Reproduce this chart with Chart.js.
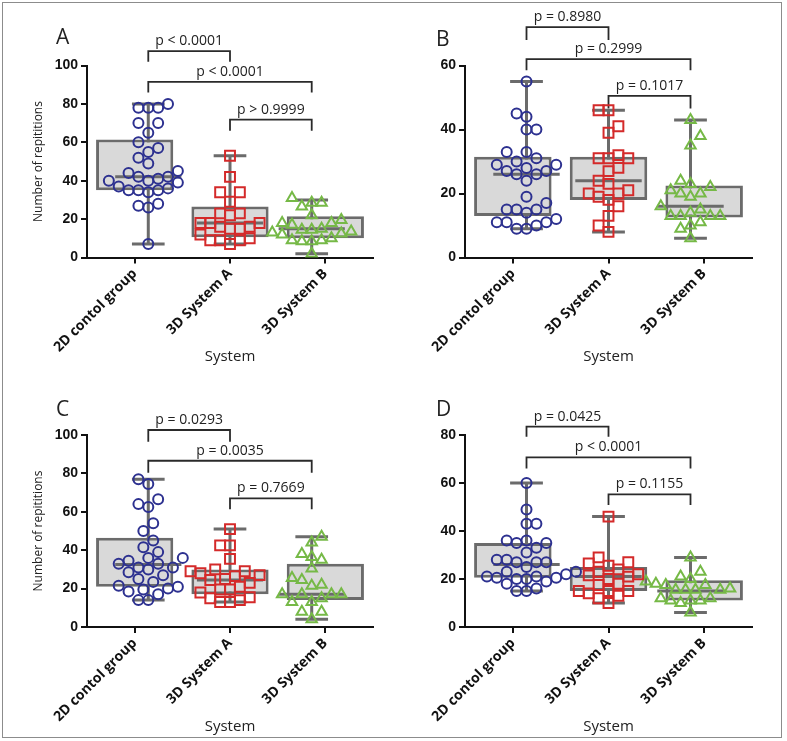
<!DOCTYPE html>
<html>
<head>
<meta charset="utf-8">
<script src="https://cdn.jsdelivr.net/npm/chart.js@4/dist/chart.umd.min.js"></script>
<style>
  body { margin: 0; background: #fff; }
  #wrap { position: relative; width: 787px; height: 741px; overflow: hidden; }
  .frame { position: absolute; left: 2px; top: 2px; width: 778px; height: 734px; border: 1px solid #8c8c8c; }
  .panel { position: absolute; }
  .tag { position: absolute; font: 21px 'Open Sans'; color: #222; line-height: 1; }
</style>
</head>
<body>
<div id="wrap">
  <div class="frame"></div>
  <div class="panel" style="left:0;top:0;width:393px;height:370px"><canvas id="chartA"></canvas></div>
  <div class="panel" style="left:393px;top:0;width:394px;height:370px"><canvas id="chartB"></canvas></div>
  <div class="panel" style="left:0;top:370px;width:393px;height:370px"><canvas id="chartC"></canvas></div>
  <div class="panel" style="left:393px;top:370px;width:394px;height:370px"><canvas id="chartD"></canvas></div>
  <div class="tag" style="left:56px;top:26px">A</div>
  <div class="tag" style="left:436px;top:28px">B</div>
  <div class="tag" style="left:56px;top:398px">C</div>
  <div class="tag" style="left:436px;top:398px">D</div>
</div>
<script>
// groups on the x axis
const groups = ['2D contol group', '3D System A', '3D System B']

// panel A - single values per group
const a2D = [80, 78, 78, 78, 70, 70, 65, 60, 57, 55, 52, 49, 44, 45, 40, 39, 42, 41, 42, 37, 40, 36, 35, 34, 35, 35, 27, 28, 26, 7]
const aSysA = [53, 42, 34, 34, 29, 23, 22, 23, 18, 16, 15, 15, 16, 18, 18, 10, 9, 7, 9, 9, 12]
const aSysB = [31, 28.5, 26.5, 28.5, 22, 18, 18, 19.5, 17, 14.5, 13.5, 12.5, 14.5, 15, 9, 8.5, 8.5, 9, 10, 12, 13, 2]
// min, q1, median, q3, max
const aBoxes = [[7, 35, 42, 61.5, 80], [7, 10.5, 18, 26.5, 53], [2, 10, 15, 21.5, 30]]
// from, to, top, leg end
const aBrackets = [[0, 1, 107.5, 102], [0, 2, 91.5, 86], [1, 2, 71.8, 66]]
const aPvals = ['p < 0.0001', 'p < 0.0001', 'p > 0.9999']

// panel B
const b2D = [55, 45, 44, 40, 40, 33, 33, 31, 29, 28, 29, 30, 27, 26, 26, 27, 24, 19, 17, 15, 15, 14, 15, 12, 11, 10, 9, 9, 11, 11]
const bSysA = [46, 46, 39, 41, 32, 31, 31, 31, 27, 28, 24, 23, 21, 20, 18, 19, 20, 16, 13, 10, 8]
const bSysB = [43, 38, 35, 23, 24, 22, 21, 20, 19, 20, 16, 13, 13, 14, 15, 13, 13, 11, 10, 9, 6]
const bBoxes = [[9, 13, 26, 31.5, 55], [8, 18, 24, 31.5, 46], [6, 12.5, 16, 22.5, 43]]
const bBrackets = [[0, 1, 72, 68], [0, 2, 62, 58.5], [1, 2, 50.5, 46.6]]
const bPvals = ['p = 0.8980', 'p = 0.2999', 'p = 0.1017']

// panel C
const c2D = [77, 74.5, 66.5, 64, 62.5, 54, 50, 45, 41.5, 39, 36, 36, 34.5, 33, 33, 31, 28.5, 30, 31, 27, 25, 23.5, 21.5, 21, 19.5, 20, 17, 18.5, 14, 14]
const cSysA = [51, 42.5, 42.5, 35.5, 29, 28, 29, 30, 25, 26.5, 24.5, 27, 21, 23, 19.5, 18, 19.5, 15.5, 14, 13, 13, 15]
const cSysB = [47, 44, 36.5, 35, 38, 30.5, 24.5, 25.5, 21.5, 22, 17, 17, 17, 17, 13, 13, 15, 8, 8, 4]
const cBoxes = [[14, 21, 32.5, 46.5, 77], [13, 17, 24.5, 30, 51], [4, 14, 17, 33, 47]]
const cBrackets = [[0, 1, 102.6, 96.5], [0, 2, 86.6, 80.4], [1, 2, 67, 61.3]]
const cPvals = ['p = 0.0293', 'p = 0.0035', 'p = 0.7669']

// panel D
const d2D = [60, 49, 43, 43, 36, 35, 36, 33, 35, 31, 28, 27, 25, 27, 27, 28, 23, 23, 21, 20.5, 20, 20, 20.5, 21, 22, 19, 18, 16, 15, 15]
const dSysA = [46, 29, 26.5, 25.5, 27, 23, 21.5, 21, 22, 24, 20, 17.5, 18, 15, 15, 15, 13, 14, 12, 10]
const dSysB = [29, 23, 21, 18, 16, 17.5, 17.5, 19, 20, 15.5, 15.5, 15.5, 15.5, 12, 11, 11, 12, 10, 11, 6]
const dBoxes = [[15, 20.5, 26, 35, 60], [10, 15, 21, 25, 46], [6, 11, 15, 19.5, 29]]
const dBrackets = [[0, 1, 83.5, 79.3], [0, 2, 70.7, 66], [1, 2, 55.3, 50.8]]
const dPvals = ['p = 0.0425', 'p < 0.0001', 'p = 0.1155']

const markers = [
  { style: 'circle', color: '#2d3190', radius: 5 },
  { style: 'rect', color: '#d42a2a', radius: 7 },
  { style: 'triangle', color: '#76b947', radius: 6 }
]
const boxGray = '#6b6b6b'

// Prism-like scatter: each dot takes the free half-slot nearest the centre
function swarm(values, yMax) {
  const ky = 192 / yMax, d = 11.5, half = 5.75
  const idx = values.map((v, i) => i).sort((a, b) => values[a] - values[b])
  const placed = [], off = []
  let side = -1
  for (const i of idx) {
    const y = values[i] * ky
    let x = 0
    for (let k = 0; k < 60; k++) {
      const step = Math.ceil(k / 2) * (k % 2 ? side : -side)
      const cx = step * half
      if (placed.every(p => (p.x - cx) ** 2 + (p.y - y) ** 2 >= d * d - 0.01)) { x = cx; break }
    }
    if (x !== 0) side = -side
    placed.push({ x, y })
    off[i] = x / 95.3
  }
  return off
}

// draws the p value texts over the brackets
const pTextPlugin = {
  id: 'pText',
  afterDatasetsDraw(chart, args, opts) {
    const ctx = chart.ctx
    const xs = chart.scales.xl, ys = chart.scales.y
    ctx.save()
    ctx.font = "14px 'Open Sans'"
    ctx.fillStyle = '#222'
    ctx.textAlign = 'center'
    ctx.textBaseline = 'middle'
    opts.brackets.forEach((b, k) => {
      ctx.fillText(opts.labels[k], xs.getPixelForValue((b[0] + b[1]) / 2), ys.getPixelForValue(b[2]) - 10)
    })
    ctx.restore()
  }
}

function makeChart(id, series, boxes, brackets, pvals, yMax, withTitle, padTop, xHeight) {
  const datasets = []

  // dots
  series.forEach((vals, g) => {
    const off = swarm(vals, yMax)
    datasets.push({
      type: 'scatter',
      xAxisID: 'xl',
      data: vals.map((v, i) => ({ x: g + off[i], y: v })),
      pointStyle: markers[g].style,
      pointRadius: markers[g].radius,
      pointBorderWidth: 2,
      borderColor: markers[g].color,
      backgroundColor: 'rgba(0,0,0,0)',
      order: 0
    })
  })

  // medians
  const med = []
  boxes.forEach((b, g) => { med.push({ x: g - 0.405, y: b[2] }, { x: g + 0.405, y: b[2] }, { x: g, y: null }) })
  datasets.push({ type: 'line', xAxisID: 'xl', data: med, borderColor: boxGray, borderWidth: 3, pointRadius: 0, order: 1 })

  // boxes
  datasets.push({
    type: 'bar',
    xAxisID: 'x',
    data: boxes.map(b => [b[1], b[3]]),
    backgroundColor: '#d9d9d9',
    borderColor: boxGray,
    borderWidth: 3,
    borderSkipped: false,
    grouped: false,
    barPercentage: 0.81,
    categoryPercentage: 1,
    order: 2
  })

  // whiskers + caps
  const wh = []
  boxes.forEach((b, g) => {
    wh.push({ x: g, y: b[0] }, { x: g, y: b[4] }, { x: g, y: null })
    wh.push({ x: g - 0.2, y: b[0] }, { x: g + 0.2, y: b[0] }, { x: g, y: null })
    wh.push({ x: g - 0.2, y: b[4] }, { x: g + 0.2, y: b[4] }, { x: g, y: null })
  })
  datasets.push({ type: 'line', xAxisID: 'xl', data: wh, borderColor: boxGray, borderWidth: 3, pointRadius: 0, order: 3 })

  // significance brackets
  const br = []
  brackets.forEach(b => {
    br.push({ x: b[0], y: b[3] }, { x: b[0], y: b[2] }, { x: b[1], y: b[2] }, { x: b[1], y: b[3] }, { x: b[1], y: null })
  })
  datasets.push({ type: 'line', xAxisID: 'xl', data: br, borderColor: '#2a2a2a', borderWidth: 1.8, pointRadius: 0, clip: false, order: 4 })

  return new Chart(document.getElementById(id), {
    type: 'bar',
    data: { labels: groups, datasets: datasets },
    options: {
      responsive: true,
      maintainAspectRatio: false,
      animation: false,
      events: [],
      layout: { padding: { top: padTop, right: withTitle ? 20 : 35, left: withTitle ? 31 : 0, bottom: 0 } },
      plugins: {
        legend: { display: false },
        tooltip: { enabled: false },
        pText: { brackets: brackets, labels: pvals }
      },
      scales: {
        x: {
          type: 'category',
          offset: true,
          grid: { offset: false, drawOnChartArea: false, tickLength: 6, color: '#111', lineWidth: 2 },
          border: { color: '#111', width: 2 },
          ticks: { minRotation: 45, maxRotation: 45, padding: 2, color: '#111', font: { family: 'Open Sans', weight: 'bold', size: 14 } },
          title: { display: true, text: 'System', color: '#222', font: { family: 'Open Sans', size: 15 } },
          afterFit: s => { s.height = xHeight }
        },
        xl: { type: 'linear', display: false, min: -0.5, max: 2.5 },
        y: {
          min: 0,
          max: yMax,
          ticks: { stepSize: 20, padding: 3, color: '#111', font: { family: 'Liberation Sans', weight: 'bold', size: 14 } },
          grid: { drawOnChartArea: false, tickLength: 6, color: '#111', lineWidth: 2 },
          border: { color: '#111', width: 2 },
          title: { display: withTitle, text: 'Number of repititions', color: '#222', padding: 0, font: { family: 'Open Sans', size: 12 } },
          afterFit: s => { s.width = withTitle ? 56 : 72 }
        }
      }
    },
    plugins: [pTextPlugin]
  })
}

makeChart('chartA', [a2D, aSysA, aSysB], aBoxes, aBrackets, aPvals, 100, true, 65.5, 112.5)
makeChart('chartB', [b2D, bSysA, bSysB], bBoxes, bBrackets, bPvals, 60, false, 65.5, 112.5)
makeChart('chartC', [c2D, cSysA, cSysB], cBoxes, cBrackets, cPvals, 100, true, 65, 113)
makeChart('chartD', [d2D, dSysA, dSysB], dBoxes, dBrackets, dPvals, 80, false, 65, 113)
</script>
</body>
</html>
